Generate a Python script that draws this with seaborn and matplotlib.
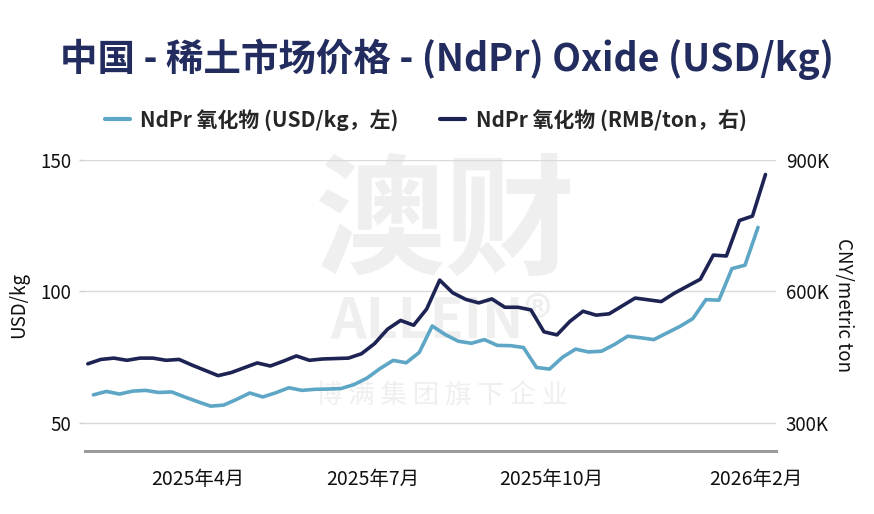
import pandas as pd
import seaborn as sns
import matplotlib.pyplot as plt
from matplotlib.lines import Line2D
from matplotlib.ticker import FuncFormatter

# weekly NdPr oxide prices
rmb_dates = pd.date_range("2025-02-03", periods=53, freq="7D")
rmb_values = [435000, 445000, 448000, 443000, 448000, 448000, 443000, 445000, 432000, 420000,
              408000, 415000, 426000, 437000, 430000, 441000, 453000, 443000, 446000, 447000,
              448000, 458000, 481000, 514000, 534000, 523000, 560000, 626000, 597000, 582000,
              574000, 583000, 564000, 564000, 558000, 508000, 501000, 532000, 555000, 546000,
              549000, 567000, 585000, 581000, 577000, 596000, 612000, 628000, 683000, 681000,
              762000, 772000, 867000]

usd_dates = pd.date_range("2025-02-06", periods=52, freq="7D")
usd_values = [60.7, 62.0, 61.0, 62.1, 62.4, 61.6, 61.8, 59.9, 58.1, 56.4,
              56.8, 59.0, 61.4, 59.9, 61.5, 63.4, 62.4, 62.8, 62.9, 63.1,
              64.6, 67.1, 70.7, 73.8, 72.9, 76.8, 86.9, 83.6, 81.1, 80.3,
              81.7, 79.5, 79.4, 78.7, 71.1, 70.5, 75.0, 78.1, 77.0, 77.3,
              79.9, 83.0, 82.4, 81.7, 84.2, 86.7, 89.7, 96.9, 96.7, 108.7,
              110.0, 124.4]

tick_dates = pd.to_datetime(["2025-04-03", "2025-07-06", "2025-10-10", "2026-01-28"])
tick_labels = ["2025年4月", "2025年7月", "2025年10月", "2026年2月"]

usd_label = "NdPr 氧化物 (USD/kg，左)"
rmb_label = "NdPr 氧化物 (RMB/ton，右)"

LIGHT = "#5ea6c6"
DARK = "#1d2453"
NAVY = "#232c5e"

sns.set_theme(style="white")
plt.rcParams["font.family"] = ["Noto Sans CJK SC", "DejaVu Sans"]

df_usd = pd.DataFrame({"date": usd_dates, "value": usd_values})
df_rmb = pd.DataFrame({"date": rmb_dates, "value": rmb_values})

fig = plt.figure(figsize=(8.74, 5.14), dpi=100)
ax = fig.add_axes([0.0973, 0.1226, 0.7906, 0.5661])
ax2 = ax.twinx()

# watermark
wm = "#efefef"
ax.text(0.52, 0.775, "澳财", transform=ax.transAxes, ha="center", va="center",
        fontsize=94, fontweight="bold", color=wm, zorder=0.1)
ax.text(0.515, 0.445, "ALLEIN®", transform=ax.transAxes, ha="center", va="center",
        fontsize=40, fontweight="bold", color=wm, zorder=0.1)
ax.text(0.516, 0.19, "博 满 集 团 旗 下 企 业", transform=ax.transAxes, ha="center", va="center",
        fontsize=19, color=wm, zorder=0.1)

sns.lineplot(data=df_usd, x="date", y="value", ax=ax, color=LIGHT, linewidth=2.6, legend=False)
sns.lineplot(data=df_rmb, x="date", y="value", ax=ax2, color=DARK, linewidth=2.6, legend=False)

ax.set_xlim(pd.Timestamp("2025-02-01 12:00"), pd.Timestamp("2026-02-07 16:00"))
ax.set_ylim(39.35, 150)
ax2.set_ylim(236100, 900000)
ax.set_yticks([50, 100, 150])
ax2.set_yticks([300000, 600000, 900000])
ax2.yaxis.set_major_formatter(FuncFormatter(lambda v, p: f"{int(v / 1000)}K"))

ax.set_xticks(tick_dates)
ax.set_xticklabels(tick_labels)

ax.set_axisbelow(True)
ax.yaxis.grid(True, color="#dadada", linewidth=1)
ax.xaxis.grid(False)

for a in (ax, ax2):
    for s in ("left", "right", "top"):
        a.spines[s].set_visible(False)
    a.spines["bottom"].set_color("#9a9a9a")
    a.spines["bottom"].set_linewidth(2)

ax.tick_params(axis="x", length=8, width=1, color="#9a9a9a", labelsize=14, pad=5, labelcolor="#111111")
ax.tick_params(axis="y", length=4, width=1, color="#d0d0d0", labelsize=13.5, pad=6, labelcolor="#111111")
ax2.tick_params(axis="y", length=0, labelsize=13.5, pad=7, labelcolor="#111111")

ax.set_xlabel("")
ax.set_ylabel("USD/kg", fontsize=13.5, color="#111111", labelpad=8)
ax2.set_ylabel("CNY/metric ton", fontsize=13.5, color="#111111", rotation=270, labelpad=18)

handles = [Line2D([], [], color=LIGHT, linewidth=3), Line2D([], [], color=DARK, linewidth=3)]
fig.legend(handles, [usd_label, rmb_label], loc="center", bbox_to_anchor=(0.487, 0.767),
           ncol=2, frameon=False, handlelength=1.2, handletextpad=0.5, columnspacing=2.0,
           prop={"size": 15, "weight": "bold"})

fig.text(0.511, 0.885, "中国 - 稀土市场价格 - (NdPr) Oxide (USD/kg)", ha="center", va="center",
         fontsize=27, fontweight="bold", color=NAVY)

fig.savefig("out.png", dpi=100, facecolor="white")
